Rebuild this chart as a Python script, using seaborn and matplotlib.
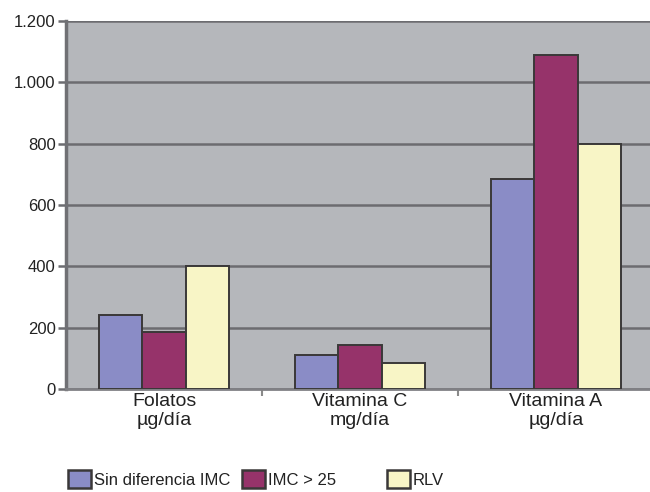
import matplotlib
matplotlib.use("Agg")
import matplotlib.pyplot as plt
from matplotlib.patches import Patch
from matplotlib.ticker import FuncFormatter, FixedLocator
import seaborn as sns
import pandas as pd

# Nutrient intake by group
categories = ["Folatos\nµg/día", "Vitamina C\nmg/día", "Vitamina A\nµg/día"]
groups = ["Sin diferencia IMC", "IMC > 25", "RLV"]
sin_diferencia = [240, 112, 685]
imc_25 = [185, 145, 1090]
rlv = [400, 85, 800]
y_ticks = [0, 200, 400, 600, 800, 1000, 1200]

colors = ["#8a8cc6", "#96336a", "#f8f5c6"]
edge = "#3a3838"

df = pd.DataFrame({
    "cat": categories * 3,
    "grupo": [g for g in groups for _ in categories],
    "valor": sin_diferencia + imc_25 + rlv,
})

sns.set_theme(style="white")
plt.rcParams["font.family"] = ["Liberation Sans", "DejaVu Sans"]

fig = plt.figure(figsize=(6.5, 4.92), dpi=100)
ax = fig.add_axes([66 / 650, 1 - 389 / 492, 588 / 650, 368 / 492])
ax.set_facecolor("#b5b7bb")

sns.barplot(data=df, x="cat", y="valor", hue="grupo", hue_order=groups,
            palette=colors, width=0.663, gap=0, edgecolor=edge, linewidth=1.4,
            saturation=1, ax=ax, legend=False, zorder=3)

ax.set_xlim(-0.5, 2.5)
ax.set_ylim(0, 1200)
ax.set_yticks(y_ticks)
ax.yaxis.set_major_formatter(FuncFormatter(lambda v, p: f"{int(v):,}".replace(",", ".")))
ax.grid(axis="y", color="#6c6c70", linewidth=1.8, zorder=1)
ax.set_axisbelow(True)

ax.set_xlabel("")
ax.set_ylabel("")
ax.xaxis.set_minor_locator(FixedLocator([0.5, 1.5]))
ax.tick_params(axis="x", which="major", length=0, pad=3, labelsize=14, labelcolor="#222222")
ax.tick_params(axis="x", which="minor", length=5, width=1.5, color="#8a8a8a", bottom=True)
ax.tick_params(axis="y", length=5.5, width=1.8, color="#6c6c70", pad=2, labelsize=12,
               labelcolor="#222222", left=True)
for lbl in ax.get_xticklabels():
    lbl.set_linespacing(1.15)

for side in ["top", "right"]:
    ax.spines[side].set_visible(False)
ax.spines["left"].set_color("#707074")
ax.spines["left"].set_linewidth(2.5)
ax.spines["bottom"].set_color("#808084")
ax.spines["bottom"].set_linewidth(2)

# Legend entries laid out along the bottom
legend_x = [68 / 650, 242 / 650, 387 / 650]
for g, c, lx in zip(groups, colors, legend_x):
    fig.legend(handles=[Patch(facecolor=c, edgecolor=edge, linewidth=1.8, label=g)],
               loc="center left", bbox_to_anchor=(lx, 1 - 479 / 492), frameon=False,
               fontsize=12, handlelength=1.4, handleheight=1.3, handletextpad=0.15,
               borderpad=0, borderaxespad=0, labelcolor="#222222")

fig.savefig("out.png", dpi=100, facecolor="white")
